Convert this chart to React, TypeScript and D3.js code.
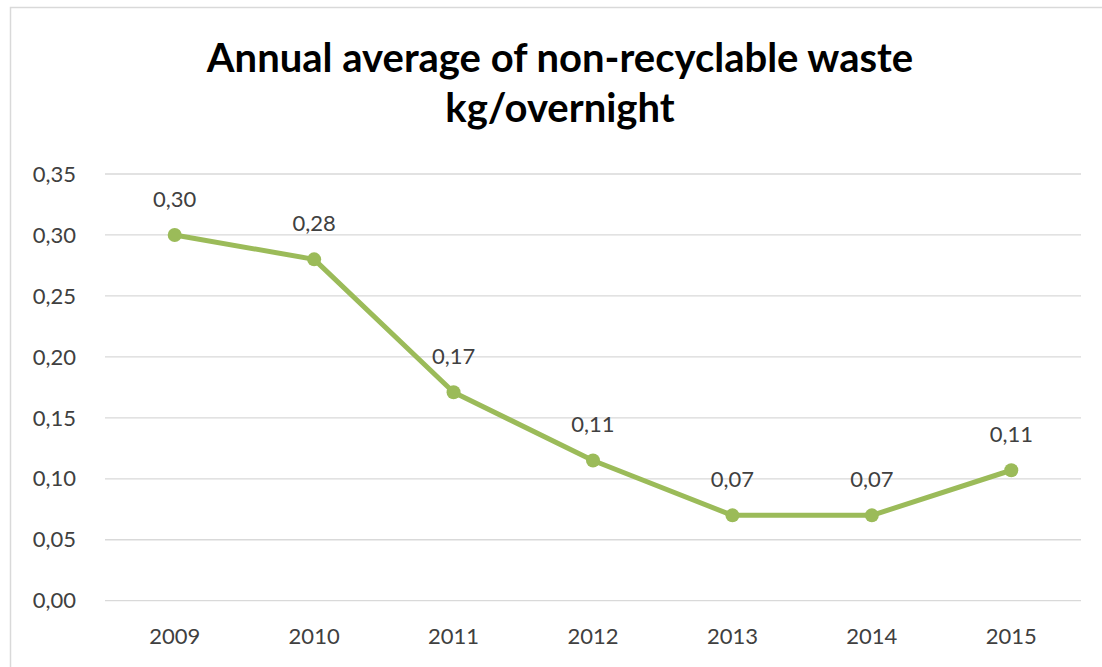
import React, { useEffect, useRef } from 'react';
import * as d3 from 'd3';

const years = ['2009', '2010', '2011', '2012', '2013', '2014', '2015'];
const wastePerNight = [0.30, 0.28, 0.171, 0.115, 0.07, 0.07, 0.107];
const valueLabels = ['0,30', '0,28', '0,17', '0,11', '0,07', '0,07', '0,11'];
const yTicks = [0, 0.05, 0.10, 0.15, 0.20, 0.25, 0.30, 0.35];
const titleLines = ['Annual average of non-recyclable waste', 'kg/overnight'];

function App() {
  const graphRef = useRef<SVGSVGElement>(null);

  function drawChart() {
    const width = 1102;
    const height = 667;
    const plot = { left: 105, right: 1081, top: 174, bottom: 600.7 };
    const font = 'Lato, Carlito, Calibri, sans-serif';
    const green = '#9bbb59';

    const svg = d3.select(graphRef.current);
    svg.selectAll('*').remove();
    svg.attr('width', width).attr('height', height);

    svg.append('rect')
      .attr('x', 0).attr('y', 0)
      .attr('width', width).attr('height', height)
      .attr('fill', '#fff');

    // chart frame (runs off the right and bottom of the picture)
    svg.append('rect')
      .attr('x', 10.5).attr('y', 7.5)
      .attr('width', width + 20).attr('height', height + 20)
      .attr('fill', 'none')
      .attr('stroke', '#d9d9d9')
      .attr('stroke-width', 1.5);

    const x = d3.scaleBand()
      .domain(years)
      .range([plot.left, plot.right])
      .padding(0);

    const y = d3.scaleLinear()
      .domain([0, 0.35])
      .range([plot.bottom, plot.top]);

    // gridlines
    svg.append('g')
      .selectAll('line')
      .data(yTicks)
      .enter()
      .append('line')
        .attr('x1', plot.left)
        .attr('x2', plot.right)
        .attr('y1', d => y(d))
        .attr('y2', d => y(d))
        .attr('stroke', '#d9d9d9')
        .attr('stroke-width', 1.3);

    // y labels
    svg.append('g')
      .selectAll('text')
      .data(yTicks)
      .enter()
      .append('text')
        .attr('x', 76)
        .attr('y', d => y(d))
        .attr('dy', '0.35em')
        .attr('text-anchor', 'end')
        .attr('font-family', font)
        .attr('font-size', 22)
        .attr('fill', '#404040')
        .text(d => d.toFixed(2).replace('.', ','));

    // x labels
    svg.append('g')
      .selectAll('text')
      .data(years)
      .enter()
      .append('text')
        .attr('x', d => x(d)! + x.bandwidth() / 2)
        .attr('y', 644)
        .attr('text-anchor', 'middle')
        .attr('font-family', font)
        .attr('font-size', 22)
        .attr('fill', '#404040')
        .text(d => d);

    const points = years.map((yr, i) => ({ yr, v: wastePerNight[i], label: valueLabels[i] }));

    const line = d3.line<{ yr: string; v: number }>()
      .x(d => x(d.yr)! + x.bandwidth() / 2)
      .y(d => y(d.v));

    svg.append('path')
      .datum(points)
      .attr('d', line)
      .attr('fill', 'none')
      .attr('stroke', green)
      .attr('stroke-width', 5)
      .attr('stroke-linejoin', 'round')
      .attr('stroke-linecap', 'round');

    svg.append('g')
      .selectAll('circle')
      .data(points)
      .enter()
      .append('circle')
        .attr('cx', d => x(d.yr)! + x.bandwidth() / 2)
        .attr('cy', d => y(d.v))
        .attr('r', 7)
        .attr('fill', green);

    // data labels
    svg.append('g')
      .selectAll('text')
      .data(points)
      .enter()
      .append('text')
        .attr('x', d => x(d.yr)! + x.bandwidth() / 2)
        .attr('y', d => y(d.v) - 28)
        .attr('text-anchor', 'middle')
        .attr('font-family', font)
        .attr('font-size', 22)
        .attr('fill', '#404040')
        .text(d => d.label);

    // title
    svg.append('g')
      .selectAll('text')
      .data(titleLines)
      .enter()
      .append('text')
        .attr('x', 560)
        .attr('y', (d, i) => 72 + i * 50)
        .attr('text-anchor', 'middle')
        .attr('font-family', font)
        .attr('font-weight', 'bold')
        .attr('font-size', 40)
        .attr('fill', '#000')
        .text(d => d);
  }

  useEffect(() => {
    drawChart();
  }, []);

  return (
    <svg ref={graphRef} style={{ position: 'absolute', left: 0, top: 0 }}></svg>
  );
}

export default App;
